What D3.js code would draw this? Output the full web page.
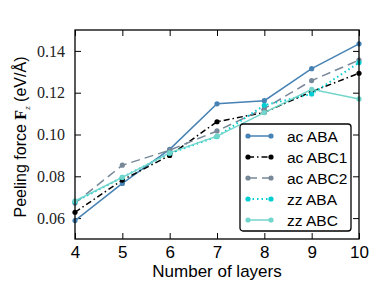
<!DOCTYPE html>
<html>
<head>
<meta charset="UTF-8">
<title>Peeling force</title>
<script src="https://d3js.org/d3.v7.min.js"></script>
<style>
  body { margin: 0; background: #fff; }
</style>
</head>
<body>
<script>
  // data
  var layers = [4, 5, 6, 7, 8, 9, 10];
  var acABA  = [0.0588, 0.0766, 0.0929, 0.1147, 0.1162, 0.1315, 0.1434];
  var acABC1 = [0.0628, 0.0782, 0.0900, 0.1061, 0.1106, 0.1205, 0.1293];
  var acABC2 = [0.0672, 0.0853, 0.0925, 0.1017, 0.1124, 0.1258, 0.1356];
  var zzABA  = [0.0678, 0.0795, 0.0910, 0.0990, 0.1140, 0.1194, 0.1344];
  var zzABC  = [0.0682, 0.0795, 0.0912, 0.0992, 0.1105, 0.1216, 0.1170];
  var yTicks = [0.06, 0.08, 0.10, 0.12, 0.14];

  var series = [
    {name: "ac ABA",  values: acABA,  color: "#4682b4", dash: null,        width: 1.5},
    {name: "ac ABC1", values: acABC1, color: "#000000", dash: "6,3,1.5,3", width: 1.5},
    {name: "ac ABC2", values: acABC2, color: "#778899", dash: "9,5",       width: 1.5},
    {name: "zz ABA",  values: zzABA,  color: "#00ced1", dash: "1.5,3",     width: 2},
    {name: "zz ABC",  values: zzABC,  color: "#72d5cb", dash: null,        width: 1.5}
  ];

  var width = 374, height = 299;
  var m = {left: 75, right: 15, top: 30, bottom: 60};

  var svg = d3.select("body").append("svg")
      .attr("width", width)
      .attr("height", height);

  var x = d3.scaleLinear().domain([4, 10]).range([m.left, width - m.right]);
  var y = d3.scaleLinear().domain([0.05, 0.15]).range([height - m.bottom, m.top]);

  var serif = "'Liberation Serif', 'DejaVu Serif', serif";
  var sans = "'Liberation Sans', Arial, sans-serif";

  // axes, ticks inward on all four sides
  var axB = svg.append("g").attr("transform", "translate(0," + (height - m.bottom) + ")")
      .call(d3.axisBottom(x).tickValues(layers).tickSize(-6).tickPadding(7)
        .tickFormat(d3.format("d")).tickSizeOuter(0));
  var axT = svg.append("g").attr("transform", "translate(0," + m.top + ")")
      .call(d3.axisTop(x).tickValues(layers).tickSize(-6).tickFormat("").tickSizeOuter(0));
  var axL = svg.append("g").attr("transform", "translate(" + m.left + ",0)")
      .call(d3.axisLeft(y).tickValues(yTicks).tickSize(-6).tickPadding(10)
        .tickFormat(d3.format(".2f")).tickSizeOuter(0));
  var axR = svg.append("g").attr("transform", "translate(" + (width - m.right) + ",0)")
      .call(d3.axisRight(y).tickValues(yTicks).tickSize(-6).tickFormat("").tickSizeOuter(0));

  [axB, axT, axL, axR].forEach(function(a) {
    a.select(".domain").remove();
    a.selectAll(".tick line").attr("stroke", "#000").attr("stroke-width", 1);
  });
  axB.selectAll("text").style("font-family", sans).style("font-size", "17px").attr("fill", "#000");
  axL.selectAll("text").style("font-family", serif).style("font-size", "16px").attr("fill", "#222");

  var line = d3.line()
      .x(function(d, i) { return x(layers[i]); })
      .y(function(d) { return y(d); });

  var g = svg.append("g");
  series.forEach(function(s) {
    g.append("path")
      .attr("d", line(s.values))
      .attr("fill", "none")
      .attr("stroke", s.color)
      .attr("stroke-width", s.width)
      .attr("stroke-dasharray", s.dash);
    g.selectAll(null).data(s.values).enter().append("circle")
      .attr("cx", function(d, i) { return x(layers[i]); })
      .attr("cy", function(d) { return y(d); })
      .attr("r", 2.6)
      .attr("fill", s.color);
  });

  // frame
  svg.append("rect")
    .attr("x", m.left).attr("y", m.top)
    .attr("width", width - m.left - m.right)
    .attr("height", height - m.top - m.bottom)
    .attr("fill", "none").attr("stroke", "#000").attr("stroke-width", 1.3);

  // legend
  var lg = svg.append("g").attr("transform", "translate(240,124)");
  lg.append("rect")
    .attr("width", 111).attr("height", 107)
    .attr("rx", 3)
    .attr("fill", "#fff").attr("stroke", "#000").attr("stroke-width", 1.3);
  series.forEach(function(s, i) {
    var yy = 12 + i * 21;
    lg.append("line")
      .attr("x1", 8).attr("x2", 31).attr("y1", yy).attr("y2", yy)
      .attr("stroke", s.color).attr("stroke-width", s.width)
      .attr("stroke-dasharray", s.dash);
    [8, 31].forEach(function(cx) {
      lg.append("circle").attr("cx", cx).attr("cy", yy).attr("r", 2.6).attr("fill", s.color);
    });
    lg.append("text")
      .attr("x", 47).attr("y", yy + 5.5)
      .style("font-family", sans).style("font-size", "15.5px")
      .text(s.name);
  });

  // axis titles
  svg.append("text")
    .attr("x", (m.left + width - m.right) / 2).attr("y", 277)
    .attr("text-anchor", "middle")
    .style("font-family", sans).style("font-size", "17px")
    .text("Number of layers");

  var yl = svg.append("text")
    .attr("transform", "translate(26,137) rotate(-90)")
    .attr("text-anchor", "middle")
    .style("font-family", sans).style("font-size", "16px");
  yl.append("tspan").text("Peeling force ");
  yl.append("tspan").style("font-family", serif).style("font-weight", "bold").text("F");
  yl.append("tspan").attr("dy", 4).style("font-family", serif).style("font-style", "italic")
    .style("font-size", "9px").text("z");
  yl.append("tspan").attr("dy", -4).text(" (eV/Å)");
</script>
</body>
</html>
